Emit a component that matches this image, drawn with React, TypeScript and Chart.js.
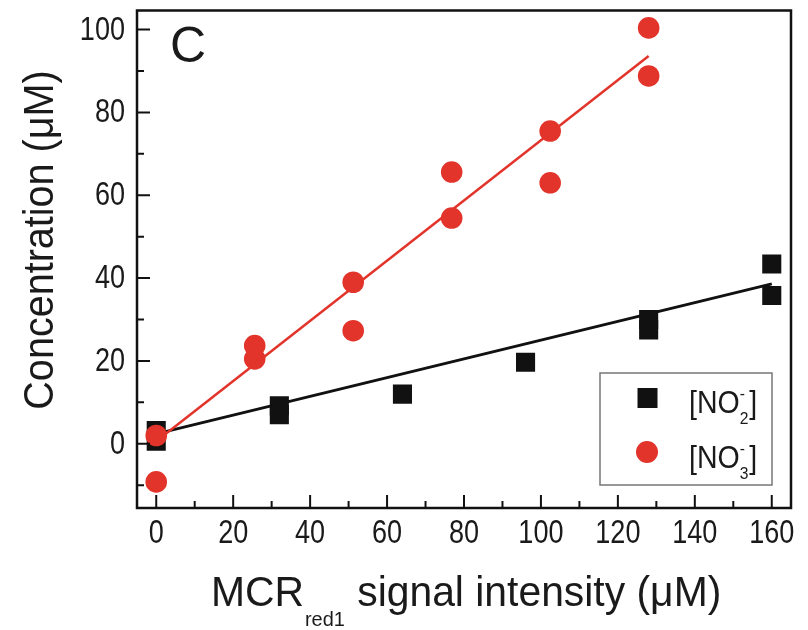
import React, { useEffect, useRef } from 'react';
import { Chart, registerables } from 'chart.js';

Chart.register(...registerables);

// ---- data ----
const nitriteX = [0, 0, 32, 32, 64, 96, 128, 128, 160, 160];
const nitriteY = [3.2, 0.6, 9.2, 7.0, 12, 19.7, 30, 27.5, 43.4, 35.8];
const nitrateX = [0, 0, 25.6, 25.6, 51.2, 51.2, 76.8, 76.8, 102.4, 102.4, 128, 128];
const nitrateY = [2, -9.2, 23.7, 20.5, 39, 27.3, 65.6, 54.5, 75.5, 63, 100.4, 88.8];

const nitriteFitX = [0, 160];
const nitriteFitY = [2.4, 38.6];
const nitrateFitX = [0, 128];
const nitrateFitY = [0.6, 93.6];

const xTickValues = [0, 20, 40, 60, 80, 100, 120, 140, 160];
const yTickValues = [0, 20, 40, 60, 80, 100];
const xMinorValues = [10, 30, 50, 70, 90, 110, 130, 150];
const yMinorValues = [-10, 10, 30, 50, 70, 90];

const RED = '#e2342b';
const BLACK = '#111111';
const TEXT = '#1a1a1a';
const SANS = '"Liberation Sans", Arial, sans-serif';
// the canvas is shifted up by this many pixels inside the page
const SHIFT = 3;

const toPts = (xs: number[], ys: number[]) => xs.map((x, i) => ({ x, y: ys[i] }));

const decorPlugin = {
  id: 'decor',
  afterDraw(chart: any) {
    const { ctx, scales } = chart;
    const xs = scales.x;
    const ys = scales.y;
    const L = xs.left, R = xs.right, T = ys.top, B = ys.bottom;
    ctx.save();
    // frame
    ctx.strokeStyle = BLACK;
    ctx.lineWidth = 2.5;
    ctx.strokeRect(L, T, R - L, B - T);
    // inward ticks
    ctx.lineWidth = 2;
    ctx.beginPath();
    xTickValues.forEach((v) => {
      const p = xs.getPixelForValue(v);
      ctx.moveTo(p, B);
      ctx.lineTo(p, B - 13);
    });
    xMinorValues.forEach((v) => {
      const p = xs.getPixelForValue(v);
      ctx.moveTo(p, B);
      ctx.lineTo(p, B - 7);
    });
    yTickValues.forEach((v) => {
      const p = ys.getPixelForValue(v);
      ctx.moveTo(L, p);
      ctx.lineTo(L + 13, p);
    });
    yMinorValues.forEach((v) => {
      const p = ys.getPixelForValue(v);
      ctx.moveTo(L, p);
      ctx.lineTo(L + 7, p);
    });
    ctx.stroke();

    ctx.fillStyle = TEXT;
    // tick labels (narrow face), positioned by the scales
    ctx.font = `33px ${SANS}`;
    ctx.textBaseline = 'middle';
    xs.ticks.forEach((t: any) => {
      const p = xs.getPixelForValue(t.value);
      ctx.save();
      ctx.translate(p, B + 26);
      ctx.scale(0.82, 1);
      ctx.textAlign = 'center';
      ctx.fillText(String(t.value), 0, 0);
      ctx.restore();
    });
    ys.ticks.forEach((t: any) => {
      const p = ys.getPixelForValue(t.value);
      ctx.save();
      ctx.translate(L - 12, p + 1);
      ctx.scale(0.82, 1);
      ctx.textAlign = 'right';
      ctx.fillText(String(t.value), 0, 0);
      ctx.restore();
    });

    // page-positioned decorations
    ctx.translate(0, SHIFT);

    // panel letter
    ctx.textBaseline = 'alphabetic';
    ctx.textAlign = 'left';
    ctx.font = `50px ${SANS}`;
    ctx.fillText('C', 170, 62);

    // x title with subscript
    ctx.save();
    ctx.translate(211, 606);
    ctx.scale(0.95, 1);
    ctx.font = `43px ${SANS}`;
    let cx = 0;
    ctx.fillText('MCR', cx, 0);
    cx += ctx.measureText('MCR').width;
    ctx.font = `21px ${SANS}`;
    ctx.fillText('red1', cx + 1, 20);
    cx += ctx.measureText('red1').width + 2;
    ctx.font = `43px ${SANS}`;
    ctx.fillText(' signal intensity (\u03BCM)', cx, 0);
    ctx.restore();

    // y title
    ctx.save();
    ctx.translate(53, 240);
    ctx.rotate(-Math.PI / 2);
    ctx.scale(0.92, 1);
    ctx.font = `43px ${SANS}`;
    ctx.textAlign = 'center';
    ctx.fillText('Concentration (\u03BCM)', 0, 0);
    ctx.restore();

    // legend
    ctx.fillStyle = '#ffffff';
    ctx.fillRect(600, 373, 172, 112);
    ctx.strokeStyle = '#777777';
    ctx.lineWidth = 1.5;
    ctx.strokeRect(600, 373, 172, 112);

    ctx.fillStyle = BLACK;
    ctx.fillRect(637.5, 388, 20, 20);
    ctx.fillStyle = RED;
    ctx.beginPath();
    ctx.arc(647, 452, 11, 0, Math.PI * 2);
    ctx.fill();

    const drawIon = (baseY: number, sub: string) => {
      ctx.save();
      ctx.translate(689, baseY);
      ctx.scale(0.92, 1);
      ctx.fillStyle = TEXT;
      ctx.textAlign = 'left';
      ctx.font = `31px ${SANS}`;
      ctx.fillText('[NO', 0, 0);
      let w = ctx.measureText('[NO').width;
      ctx.font = `17px ${SANS}`;
      ctx.fillText('-', w, -14);
      ctx.fillText(sub, w, 11);
      w += ctx.measureText(sub).width + 1;
      ctx.font = `31px ${SANS}`;
      ctx.fillText(']', w, 0);
      ctx.restore();
    };
    drawIon(413, '2');
    drawIon(468, '3');

    ctx.restore();
  },
};

export default function App() {
  const ref = useRef<HTMLCanvasElement | null>(null);
  useEffect(() => {
    if (!ref.current) return;
    const chart = new Chart(ref.current, {
      type: 'scatter',
      data: {
        datasets: [
          {
            label: 'NO3 fit',
            type: 'line',
            data: toPts(nitrateFitX, nitrateFitY),
            borderColor: RED,
            borderWidth: 2.5,
            pointRadius: 0,
            showLine: true,
            fill: false,
            order: 1,
          },
          {
            label: '[NO3-]',
            data: toPts(nitrateX, nitrateY),
            backgroundColor: RED,
            borderColor: RED,
            borderWidth: 0,
            pointStyle: 'circle',
            pointRadius: 10.8,
            order: 2,
          },
          {
            label: 'NO2 fit',
            type: 'line',
            data: toPts(nitriteFitX, nitriteFitY),
            borderColor: BLACK,
            borderWidth: 3,
            pointRadius: 0,
            showLine: true,
            fill: false,
            order: 3,
          },
          {
            label: '[NO2-]',
            data: toPts(nitriteX, nitriteY),
            backgroundColor: BLACK,
            borderColor: BLACK,
            borderWidth: 0,
            pointStyle: 'rect',
            pointRadius: 13.5,
            order: 4,
          },
        ],
      },
      options: {
        animation: false,
        responsive: true,
        maintainAspectRatio: false,
        layout: { padding: { top: 10, right: 17, left: 0, bottom: 0 } },
        plugins: {
          legend: { display: false },
          tooltip: { enabled: false },
        },
        scales: {
          x: {
            type: 'linear',
            min: -5,
            max: 165,
            grid: { display: false, drawTicks: false },
            border: { display: false },
            afterBuildTicks: (s: any) => {
              s.ticks = xTickValues.map((v) => ({ value: v }));
            },
            afterFit: (s: any) => {
              s.height = 122;
              s.paddingLeft = 0;
              s.paddingRight = 0;
              s.paddingTop = 0;
              s.paddingBottom = 0;
            },
            ticks: { display: false },
          },
          y: {
            type: 'linear',
            min: -15.5,
            max: 104.6,
            grid: { display: false, drawTicks: false },
            border: { display: false },
            afterBuildTicks: (s: any) => {
              s.ticks = yTickValues.map((v) => ({ value: v }));
            },
            afterFit: (s: any) => {
              s.width = 137;
              s.paddingLeft = 0;
              s.paddingRight = 0;
              s.paddingTop = 0;
              s.paddingBottom = 0;
            },
            ticks: { display: false },
          },
        },
      },
      plugins: [decorPlugin],
    });
    return () => chart.destroy();
  }, []);

  return (
    <div
      style={{
        position: 'fixed',
        left: 0,
        top: -SHIFT,
        width: 808,
        height: 630 + SHIFT,
        background: '#fff',
      }}
    >
      <canvas ref={ref} />
    </div>
  );
}
